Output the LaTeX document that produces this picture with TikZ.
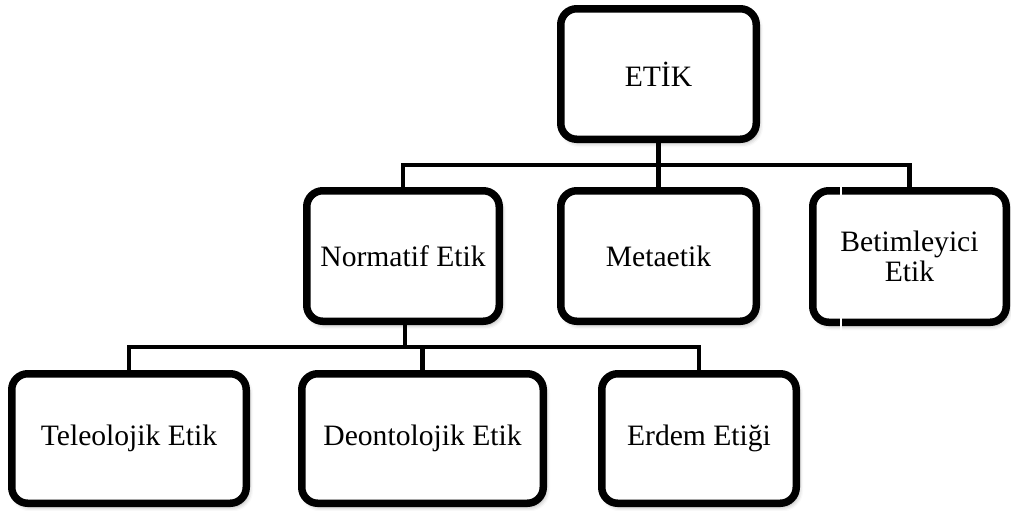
\documentclass[tikz,border=0pt]{standalone}
\usepackage{fontspec}
\setmainfont{Liberation Serif}
\usetikzlibrary{shadows.blur}
\begin{document}
\begin{tikzpicture}[x=0.5pt,y=-0.5pt,
  box/.style={draw=black, line width=3.75pt, rounded corners=8pt, fill=white,
    inner sep=0pt, align=center,
    font=\fontsize{14.8}{15.2}\selectfont,
    blur shadow={shadow xshift=1.2pt, shadow yshift=-1.8pt, shadow blur radius=2.2pt, shadow opacity=35}},
  conn/.style={draw=black, line width=2.3pt}]
\useasboundingbox (0,0) rectangle (1011,510);

\node[box, minimum width=97.75pt, minimum height=65.25pt] (etik) at (658.5,74) {ETİK};
\node[box, minimum width=96.25pt, minimum height=65.25pt] (norm) at (403,256) {Normatif Etik};
\node[box, minimum width=97.75pt, minimum height=65.25pt] (meta) at (658.5,256) {Metaetik};
\node[box, minimum width=96.75pt, minimum height=65.75pt] (bet) at (909.5,256.5) {Betimleyici\\Etik};
\node[box, minimum width=117.25pt, minimum height=64.75pt] (tel) at (129,438.5) {Teleolojik Etik};
\node[box, minimum width=120.75pt, minimum height=64.75pt] (deo) at (422.5,438.5) {Deontolojik Etik};
\node[box, minimum width=97.25pt, minimum height=64.75pt] (erd) at (699,438.5) {Erdem Etiği};

\coordinate (b1) at (658.5,165);
\coordinate (b2) at (405,347);

\draw[conn] (etik.south) -- (b1);
\draw[conn] (norm.north) |- (b1) -| (bet.north);
\draw[conn] (b1) -- (meta.north);
\draw[conn] (norm.south -| b2) -- (b2);
\draw[conn] (tel.north) |- (b2) -| (erd.north);
\draw[conn] (deo.north) -- (deo.north |- b2);

% white gap artifacts on the Betimleyici box border
\fill[white] (839.5,183) rectangle (841.5,197);
\fill[white] (839.5,316) rectangle (841.5,333);
\end{tikzpicture}
\end{document}
